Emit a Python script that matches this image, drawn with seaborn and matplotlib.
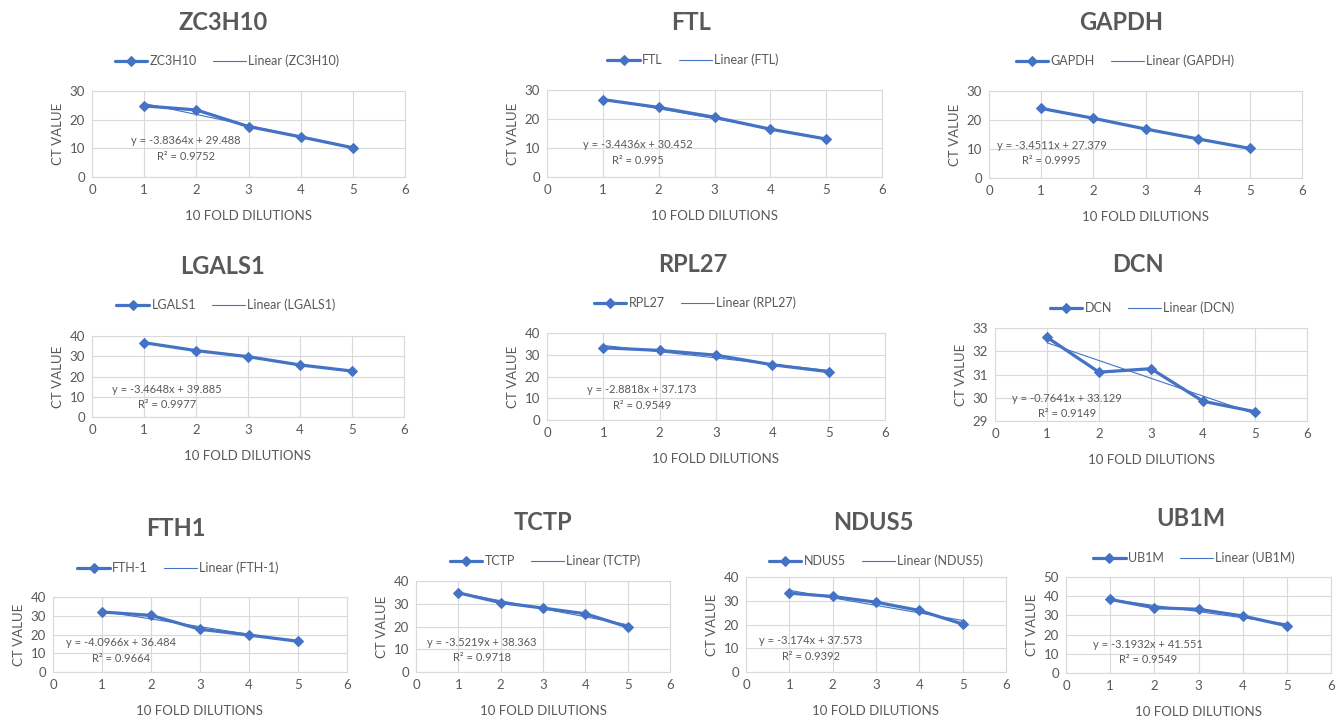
import numpy as np
import pandas as pd
import matplotlib
matplotlib.use('Agg')
import matplotlib.pyplot as plt
import seaborn as sns

# --- données ---
dilutions = [1, 2, 3, 4, 5]
genes = ['ZC3H10', 'FTL', 'GAPDH', 'LGALS1', 'RPL27', 'DCN', 'FTH1', 'TCTP', 'NDUS5', 'UB1M']
series_names = ['ZC3H10', 'FTL', 'GAPDH', 'LGALS1', 'RPL27', 'DCN', 'FTH-1', 'TCTP', 'NDUS5', 'UB1M']

ct_zc3h10 = [24.8, 23.4, 17.6, 14.0, 10.2]
ct_ftl = [26.7, 24.0, 20.6, 16.5, 13.1]
ct_gapdh = [24.0, 20.6, 16.9, 13.5, 10.2]
ct_lgals1 = [36.7, 32.8, 29.8, 25.7, 22.7]
ct_rpl27 = [33.2, 32.0, 29.8, 25.4, 22.2]
ct_dcn = [32.6, 31.1, 31.25, 29.85, 29.4]
ct_fth1 = [32.0, 30.2, 22.8, 19.7, 16.4]
ct_tctp = [34.8, 30.5, 28.1, 25.6, 19.8]
ct_ndus5 = [33.2, 31.8, 29.4, 25.9, 20.2]
ct_ub1m = [38.3, 34.0, 33.2, 29.7, 24.6]
ct_values = [ct_zc3h10, ct_ftl, ct_gapdh, ct_lgals1, ct_rpl27,
             ct_dcn, ct_fth1, ct_tctp, ct_ndus5, ct_ub1m]

slopes = [-3.8364, -3.4436, -3.4511, -3.4648, -2.8818, -0.7641, -4.0966, -3.5219, -3.174, -3.1932]
intercepts = [29.488, 30.452, 27.379, 39.885, 37.173, 33.129, 36.484, 38.363, 37.573, 41.551]
r2_values = [0.9752, 0.995, 0.9995, 0.9977, 0.9549, 0.9149, 0.9664, 0.9718, 0.9392, 0.9549]

y_min = [0, 0, 0, 0, 0, 29, 0, 0, 0, 0]
y_max = [30, 30, 30, 40, 40, 33, 40, 40, 40, 50]
y_step = [10, 10, 10, 10, 10, 1, 10, 10, 10, 10]

# --- mise en page (pixels) : zone de tracé, titre, légende, texte équation ---
W, H = 1341, 720
plot_boxes = [(92, 91, 405, 177), (547, 90, 882, 177), (989, 91, 1302, 178),
              (92, 336, 404, 417), (547, 333, 885, 420), (995, 328, 1307, 421),
              (53, 597, 347, 672), (416, 581, 670, 672), (746, 577, 1006, 672), (1066, 577, 1331, 673)]
title_pos = [(223, 23), (691, 22), (1121, 23), (223, 266), (693, 264), (1138, 264),
             (176, 528), (543, 522), (873, 522), (1191, 518)]
legend_pos = [(227, 61), (693, 60), (1125, 61), (226, 305), (695, 303), (1142, 308),
              (178, 568), (545, 561), (876, 561), (1194, 558)]
eq_pos = [(0.30, 0.33), (0.27, 0.28), (0.20, 0.29), (0.24, 0.25), (0.28, 0.26),
          (0.23, 0.16), (0.23, 0.29), (0.26, 0.24), (0.25, 0.25), (0.31, 0.22)]

bleu = '#4472C4'
gris = '#595959'
grille = '#D9D9D9'

sns.set_style('white')
plt.rcParams['font.family'] = ['Lato', 'DejaVu Sans']
plt.rcParams['text.color'] = gris
plt.rcParams['axes.labelcolor'] = gris
plt.rcParams['xtick.color'] = gris
plt.rcParams['ytick.color'] = gris

fig = plt.figure(figsize=(W / 100, H / 100), dpi=100)
fig.patch.set_facecolor('white')

for i, gene in enumerate(genes):
    l, t, r, b = plot_boxes[i]
    ax = fig.add_axes([l / W, 1 - b / H, (r - l) / W, (b - t) / H])

    df = pd.DataFrame({'dilution': dilutions, 'ct': ct_values[i]})
    df['trend'] = slopes[i] * df['dilution'] + intercepts[i]

    sns.lineplot(data=df, x='dilution', y='ct', ax=ax, color=bleu, linewidth=2.3,
                 marker='D', markersize=5.5, markeredgecolor=bleu, label=series_names[i])
    sns.lineplot(data=df, x='dilution', y='trend', ax=ax, color=bleu, linewidth=0.8,
                 label='Linear (' + series_names[i] + ')')

    ax.set_xlim(0, 6)
    ax.set_ylim(y_min[i], y_max[i])
    ax.set_xticks(range(0, 7))
    ax.set_yticks(np.arange(y_min[i], y_max[i] + 0.01, y_step[i]))
    ax.grid(True, color=grille, linewidth=0.8)
    ax.set_axisbelow(True)
    for s in ax.spines.values():
        s.set_color(grille)
        s.set_linewidth(0.8)
    ax.tick_params(length=0, labelsize=9.5, pad=5)
    ax.set_xlabel('10 FOLD DILUTIONS', fontsize=9.5, labelpad=10)
    ax.set_ylabel('CT VALUE', fontsize=9.5, labelpad=4)

    ex, ey = eq_pos[i]
    ax.text(ex, ey, 'y = ' + str(slopes[i]) + 'x + ' + str(intercepts[i]) + '\nR² = ' + str(r2_values[i]),
            transform=ax.transAxes, ha='center', va='center', multialignment='center',
            fontsize=8, color=gris, linespacing=1.5)

    tx, ty = title_pos[i]
    fig.text(tx / W, 1 - ty / H, gene, ha='center', va='center', fontsize=17,
             fontweight='bold', color=gris)

    lx, ly = legend_pos[i]
    ax.legend(loc='center', bbox_to_anchor=(lx / W, 1 - ly / H), bbox_transform=fig.transFigure,
              ncol=2, frameon=False, fontsize=9, handlelength=2.6, columnspacing=1.3,
              handletextpad=0.2, borderaxespad=0)

fig.savefig('out.png', dpi=100, facecolor='white')
